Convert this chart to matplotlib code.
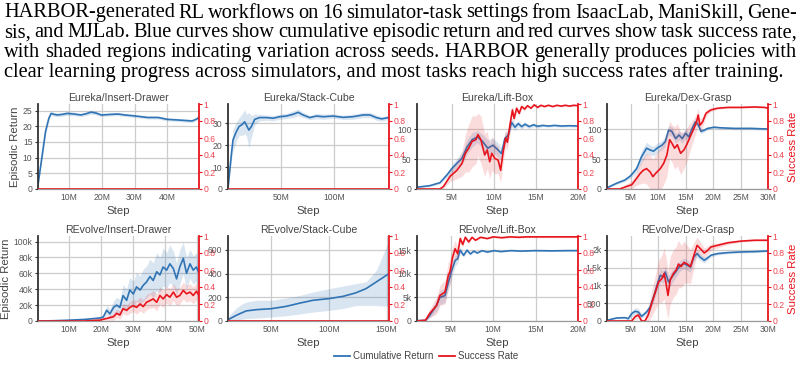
import numpy as np
import matplotlib
matplotlib.use("Agg")
from matplotlib import pyplot as plt
from matplotlib.lines import Line2D
from matplotlib.ticker import FuncFormatter

BLUE = '#3074b5'
RED = '#e8141d'
RED_TXT = '#ee4450'
GRAY = '#555555'

caption_lines = [
    "HARBOR-generated RL workflows on 16 simulator-task settings from IsaacLab, ManiSkill, Gene-",
    "sis, and MJLab. Blue curves show cumulative episodic return and red curves show task success rate,",
    "with shaded regions indicating variation across seeds.  HARBOR generally produces policies with",
    "clear learning progress across simulators, and most tasks reach high success rates after training.",
]

# ---- Eureka / Insert-Drawer
eu_drawer_x = [0.5, 1.8, 2.8, 3.8, 4.5, 5.4, 6.4, 8.0, 9.5, 11.5, 13.6, 15.2, 16.7, 18.3, 19.8, 21.5, 23.0,
               25.0, 27.0, 30.0, 34.0, 37.2, 40.0, 43.3, 46.0, 47.6, 49.0, 49.7]
eu_drawer_ret = [1.3, 10.9, 18.3, 22.5, 24.1, 23.8, 23.6, 23.8, 24.1, 23.9, 23.6, 24.0, 24.5, 24.2, 23.6, 23.7,
                 23.8, 23.9, 23.6, 23.3, 22.8, 22.8, 22.2, 22.0, 21.8, 21.7, 22.3, 22.9]
eu_drawer_ret_sd = [0.3, 1.0, 1.0, 0.8, 0.6, 0.6, 0.6, 0.6, 0.6, 0.6, 0.5, 0.6, 0.6, 0.6, 0.5, 0.5, 0.5, 0.5,
                    0.5, 0.5, 0.5, 0.5, 0.5, 0.5, 0.5, 0.5, 0.5, 0.6]
eu_drawer_sr_x = [0.5, 49.7]
eu_drawer_sr = [0, 0]

# ---- Eureka / Stack-Cube
eu_stack_x = [0.3, 3.4, 5.0, 8.0, 10.7, 13.8, 16.0, 17.6, 20.0, 22.3, 25.5, 30.0, 36.5, 42.8, 49.0, 55.3, 61.6,
              66.4, 71.0, 77.3, 83.6, 90.0, 99.4, 108.8, 118.0, 127.7, 134.0, 140.0, 145.0, 151.5]
eu_stack_ret = [0.3, 15.5, 22.4, 26.0, 28.5, 29.5, 30.7, 29.2, 26.9, 28.5, 31.8, 32.6, 32.6, 32.3, 33.0, 33.3,
                34.1, 35.0, 33.8, 32.6, 33.3, 33.0, 33.3, 32.7, 33.0, 33.8, 33.8, 32.6, 32.0, 32.6]
eu_stack_ret_sd = [0.3, 3.0, 5.0, 4.5, 4.0, 5.0, 5.5, 5.0, 8.0, 5.0, 2.5, 1.5, 1.2, 1.2, 1.2, 1.2, 1.5, 1.5,
                   1.2, 1.0, 1.2, 1.2, 1.0, 1.0, 1.2, 1.2, 1.2, 1.2, 1.0, 1.0]
eu_stack_sr_x = [0.3, 152]
eu_stack_sr = [0, 0]

# ---- Eureka / Lift-Box
eu_lift_x = [0.85, 2.36, 3.58, 4.39, 5.0, 5.6, 6.2, 6.8, 7.4, 8.05, 8.66, 9.27, 9.88, 10.5, 10.9, 11.3, 11.7,
             12.1, 12.5, 12.9, 13.3, 13.7, 14.2, 14.7, 15.2, 15.8, 16.5, 17.2, 18.0, 19.0, 20.0]
eu_lift_ret = [3, 5.5, 10.5, 23, 34, 43, 51, 70, 82, 87, 79, 68, 73, 65, 59, 84, 90, 111, 103, 109, 104, 108,
               104, 107, 104.5, 106, 105, 106, 105, 105.5, 105]
eu_lift_ret_sd = [1, 1.5, 2, 4, 6, 8, 10, 12, 12, 10, 12, 14, 12, 12, 10, 10, 8, 8, 6, 5, 4, 4, 3, 3, 3, 2, 2,
                  2, 2, 2, 2]
eu_lift_sr_x = [0.85, 3.58, 4.0, 4.8, 5.6, 6.2, 6.6, 7.0, 7.4, 7.85, 8.1, 8.45, 8.9, 9.2, 9.5, 9.75, 10.1,
                10.5, 10.8, 11.1, 11.4, 11.6, 11.9, 12.2, 12.4, 12.7, 13.0, 13.3, 13.65, 14.0, 14.4, 14.8,
                15.2, 15.6, 16.0, 16.5, 17.0, 17.5, 18.0, 18.5, 19.0, 19.5, 20.0]
eu_lift_sr = [0, 0, 0.03, 0.15, 0.22, 0.3, 0.42, 0.48, 0.56, 0.58, 0.64, 0.58, 0.4, 0.46, 0.32, 0.42, 0.36,
              0.34, 0.22, 0.44, 0.6, 0.55, 0.75, 0.93, 0.83, 0.95, 0.89, 0.97, 0.94, 0.98, 0.95, 0.99, 0.96,
              0.985, 0.97, 0.985, 0.97, 0.985, 0.975, 0.985, 0.975, 0.985, 0.98]
eu_lift_sr_sd = [0, 0, 0.02, 0.06, 0.1, 0.15, 0.22, 0.28, 0.3, 0.28, 0.25, 0.28, 0.25, 0.22, 0.2, 0.2, 0.18,
                 0.16, 0.14, 0.12, 0.1, 0.1, 0.08, 0.05, 0.05, 0.03, 0.03, 0.02, 0.02, 0.01, 0.01, 0.01,
                 0.01, 0.01, 0.01, 0.01, 0.01, 0.01, 0.01, 0.01, 0.01, 0.01, 0.01]

# ---- Eureka / Dex-Grasp
eu_dex_x = [0.7, 2.4, 3.96, 5.0, 6.1, 7.0, 7.9, 8.56, 9.17, 9.8, 10.7, 11.3, 11.9, 12.5, 13.2, 13.8, 14.4,
            15.0, 15.6, 16.2, 16.8, 17.3, 17.8, 18.4, 19.0, 20.2, 21.4, 23.9, 27.0, 30.0]
eu_dex_ret = [2, 9.4, 15, 22, 34, 54, 68, 65, 63, 68, 73, 79, 98, 96, 84, 90, 84, 93, 87, 101, 112, 107, 96,
              98, 101, 103, 102, 101, 101, 100]
eu_dex_ret_sd = [1, 2, 3, 4, 6, 10, 10, 8, 8, 8, 8, 8, 8, 8, 8, 8, 8, 8, 8, 8, 6, 5, 4, 3, 2, 2, 2, 2, 2, 2]
eu_dex_sr_x = [0.7, 3.0, 4.26, 5.2, 6.1, 6.7, 7.3, 7.9, 8.56, 9.05, 9.5, 10.4, 11.0, 11.6, 12.1, 12.5, 13.0,
               13.5, 14.1, 14.7, 15.2, 15.6, 16.0, 16.5, 17.0, 17.3, 17.6, 18.1, 18.7, 19.6, 20.8, 22.7,
               25.1, 27.6, 29.4, 30.0]
eu_dex_sr = [0, 0, 0.03, 0.05, 0.125, 0.18, 0.22, 0.24, 0.2, 0.145, 0.18, 0.24, 0.3, 0.4, 0.58, 0.54, 0.48,
             0.52, 0.42, 0.46, 0.52, 0.58, 0.64, 0.71, 0.79, 0.87, 0.75, 0.79, 0.89, 0.93, 0.95, 0.96, 0.96,
             0.965, 0.96, 0.95]
eu_dex_sr_sd = [0, 0, 0.03, 0.05, 0.08, 0.12, 0.15, 0.18, 0.2, 0.2, 0.22, 0.25, 0.25, 0.25, 0.22, 0.22, 0.25,
                0.25, 0.25, 0.22, 0.2, 0.18, 0.15, 0.12, 0.1, 0.08, 0.08, 0.06, 0.04, 0.02, 0.01, 0.01,
                0.01, 0.01, 0.01, 0.01]

# ---- REvolve / Insert-Drawer
rv_drawer_x = [0.44, 5, 10, 15, 19.8, 20.8, 21.9, 22.9, 24.0, 25.0, 26.0, 27.0, 28.1, 29.1, 30.2, 31.2, 32.3,
               33.3, 34.3, 35.4, 36.4, 37.5, 38.5, 39.5, 40.6, 41.6, 42.7, 43.7, 44.7, 45.8, 46.8, 47.9, 48.9,
               49.9, 50.7]
rv_drawer_ret = [0, 300, 1000, 2000, 3800, 5000, 13500, 9000, 17000, 20000, 17000, 32000, 26000, 39000, 34000,
                 43000, 39000, 45000, 49000, 56000, 51000, 62000, 58000, 68000, 64000, 72000, 66000, 53000,
                 68000, 79000, 60000, 72000, 64000, 68000, 60000]
rv_drawer_ret_sd = [0, 200, 500, 800, 1500, 3000, 6000, 6000, 8000, 10000, 10000, 14000, 14000, 16000, 16000,
                    18000, 18000, 20000, 20000, 22000, 22000, 24000, 22000, 24000, 22000, 24000, 22000, 20000,
                    22000, 20000, 20000, 18000, 18000, 18000, 18000]
rv_drawer_sr = [0, 0, 0, 0, 0.01, 0.02, 0.03, 0.04, 0.05, 0.09, 0.07, 0.145, 0.125, 0.16, 0.18, 0.16, 0.2,
                0.17, 0.22, 0.24, 0.26, 0.22, 0.3, 0.26, 0.31, 0.28, 0.34, 0.28, 0.3, 0.36, 0.32, 0.34, 0.3,
                0.35, 0.3]
rv_drawer_sr_sd = [0, 0, 0, 0, 0.005, 0.01, 0.02, 0.03, 0.04, 0.05, 0.05, 0.06, 0.06, 0.07, 0.07, 0.08, 0.08,
                   0.08, 0.09, 0.09, 0.1, 0.1, 0.1, 0.1, 0.1, 0.1, 0.1, 0.1, 0.1, 0.1, 0.1, 0.1, 0.1, 0.1, 0.1]

# ---- REvolve / Stack-Cube
rv_stack_x = [12.3, 19.5, 25, 28, 37, 50, 63, 75, 86, 100, 112, 123, 132, 141, 152]
rv_stack_ret = [11, 48, 72, 85, 96, 104, 124, 152, 175, 189, 208, 237, 273, 330, 400]
rv_stack_lo = [3, 10, 15, 20, 25, 34, 45, 60, 75, 90, 105, 130, 132, 130, 124]
rv_stack_hi = [34, 110, 146, 160, 175, 175, 195, 217, 245, 273, 295, 315, 330, 428, 682]
rv_stack_sr_x = [12.3, 152]
rv_stack_sr = [0, 0]

# ---- REvolve / Lift-Box
rv_lift_x = [1.0, 2.0, 2.5, 3.3, 3.7, 4.3, 4.7, 5.1, 5.5, 5.8, 6.1, 6.5, 6.9, 7.3, 7.7, 8.1, 8.7, 9.3, 10.1,
             10.9, 12.1, 13.3, 14.9, 16.9, 18.9, 20.0]
rv_lift_ret = [100, 100, 1200, 3300, 5000, 5400, 8200, 10700, 12800, 13200, 15000, 13900, 15000, 14200, 14800,
               14400, 14900, 14600, 14900, 14700, 14900, 14800, 14900, 14850, 14900, 14900]
rv_lift_ret_sd = [50, 100, 600, 1200, 1500, 1500, 1500, 1500, 1200, 1000, 600, 400, 300, 300, 200, 200, 150,
                  150, 100, 100, 100, 100, 100, 100, 100, 100]
rv_lift_sr_x = [1.0, 2.0, 2.5, 3.3, 3.7, 4.3, 4.7, 4.9, 5.2, 5.5, 5.8, 6.1, 6.4, 6.7, 7.1, 7.5, 7.9, 8.5, 9.3,
                10.0, 11.0, 12.0, 13.0, 14.0, 16.0, 18.0, 20.0]
rv_lift_sr = [0, 0.01, 0.09, 0.18, 0.3, 0.34, 0.54, 0.58, 0.75, 0.85, 0.79, 0.97, 0.9, 0.985, 0.93, 0.985,
              0.95, 0.985, 0.97, 0.99, 0.98, 0.99, 0.985, 0.99, 0.99, 0.99, 0.99]
rv_lift_sr_sd = [0, 0.01, 0.05, 0.1, 0.12, 0.14, 0.15, 0.15, 0.12, 0.1, 0.08, 0.04, 0.03, 0.02, 0.02, 0.01,
                 0.01, 0.01, 0.01, 0.01, 0.01, 0.01, 0.01, 0.01, 0.01, 0.01, 0.01]

# ---- REvolve / Dex-Grasp
rv_dex_x = [0.7, 2.4, 3.96, 4.57, 5.18, 5.8, 6.4, 7.0, 7.9, 8.56, 9.17, 9.8, 10.4, 11.0, 11.3, 11.9, 12.5,
            13.2, 13.6, 14.1, 14.7, 15.3, 15.9, 16.5, 17.1, 17.6, 18.4, 19.0, 19.6, 20.8, 22.7, 25.1, 27.6, 30.0]
rv_dex_ret = [19, 84, 94, 66, 206, 272, 253, 131, 253, 394, 675, 1004, 1285, 1238, 1379, 1097, 1238, 1379,
              1473, 1567, 1614, 1567, 1520, 1801, 1895, 1801, 1707, 1773, 1848, 1895, 1923, 1942, 1951, 1970]
rv_dex_ret_sd = [10, 20, 30, 40, 80, 100, 100, 60, 80, 120, 150, 180, 180, 180, 180, 180, 180, 160, 160, 150,
                 150, 150, 150, 120, 100, 100, 80, 60, 50, 40, 30, 30, 30, 30]
rv_dex_sr_x = [0.7, 5.2, 5.8, 6.4, 7.0, 7.6, 8.2, 8.8, 9.5, 10.1, 10.7, 11.1, 11.4, 11.8, 12.2, 12.8, 13.3,
               13.7, 14.2, 14.7, 15.3, 15.9, 16.5, 17.1, 17.7, 18.4, 19.0, 19.6, 20.8, 22.7, 25.1, 27.6, 30.0]
rv_dex_sr = [0, 0, 0.05, 0.07, 0, 0, 0.07, 0.2, 0.34, 0.46, 0.5, 0.56, 0.46, 0.3, 0.48, 0.56, 0.6, 0.67, 0.64,
             0.69, 0.67, 0.64, 0.77, 0.89, 0.85, 0.8, 0.83, 0.87, 0.89, 0.92, 0.94, 0.95, 0.95]
rv_dex_sr_sd = [0, 0, 0.03, 0.04, 0.02, 0.02, 0.08, 0.15, 0.2, 0.25, 0.28, 0.3, 0.3, 0.28, 0.28, 0.28, 0.28,
                0.28, 0.25, 0.25, 0.22, 0.2, 0.15, 0.1, 0.08, 0.06, 0.05, 0.04, 0.03, 0.02, 0.01, 0.01, 0.01]


def band(y, sd):
    y = np.asarray(y, float)
    sd = np.asarray(sd, float)
    return y - sd, y + sd


panels = [
    dict(title='Eureka/Insert-Drawer', x=eu_drawer_x, ret=eu_drawer_ret, band=band(eu_drawer_ret, eu_drawer_ret_sd),
         sx=eu_drawer_sr_x, sr=eu_drawer_sr, sband=None,
         xlim=(0.5, 49.7), xt=[10, 20, 30, 40], ylim=(0, 27.1), yt=[0, 5, 10, 15, 20, 25]),
    dict(title='Eureka/Stack-Cube', x=eu_stack_x, ret=eu_stack_ret, band=band(eu_stack_ret, eu_stack_ret_sd),
         sx=eu_stack_sr_x, sr=eu_stack_sr, sband=None,
         xlim=(0.3, 152), xt=[50, 100], ylim=(0, 38.8), yt=[0, 10, 20, 30]),
    dict(title='Eureka/Lift-Box', x=eu_lift_x, ret=eu_lift_ret, band=band(eu_lift_ret, eu_lift_ret_sd),
         sx=eu_lift_sr_x, sr=eu_lift_sr, sband=band(eu_lift_sr, eu_lift_sr_sd),
         xlim=(0.85, 20), xt=[5, 10, 15, 20], ylim=(0, 141.7), yt=[0, 50, 100]),
    dict(title='Eureka/Dex-Grasp', x=eu_dex_x, ret=eu_dex_ret, band=band(eu_dex_ret, eu_dex_ret_sd),
         sx=eu_dex_sr_x, sr=eu_dex_sr, sband=band(eu_dex_sr, eu_dex_sr_sd),
         xlim=(0.7, 30), xt=[5, 10, 15, 20, 25, 30], ylim=(0, 141.7), yt=[0, 50, 100]),
    dict(title='REvolve/Insert-Drawer', x=rv_drawer_x, ret=rv_drawer_ret, band=band(rv_drawer_ret, rv_drawer_ret_sd),
         sx=rv_drawer_x, sr=rv_drawer_sr, sband=band(rv_drawer_sr, rv_drawer_sr_sd),
         xlim=(0.44, 50.7), xt=[10, 20, 30, 40, 50], ylim=(0, 107000), yt=[0, 20000, 40000, 60000, 80000, 100000]),
    dict(title='REvolve/Stack-Cube', x=rv_stack_x, ret=rv_stack_ret, band=(rv_stack_lo, rv_stack_hi),
         sx=rv_stack_sr_x, sr=rv_stack_sr, sband=None,
         xlim=(12.3, 152), xt=[50, 100, 150], ylim=(0, 718), yt=[0, 200, 400, 600]),
    dict(title='REvolve/Lift-Box', x=rv_lift_x, ret=rv_lift_ret, band=band(rv_lift_ret, rv_lift_ret_sd),
         sx=rv_lift_sr_x, sr=rv_lift_sr, sband=band(rv_lift_sr, rv_lift_sr_sd),
         xlim=(1.0, 20), xt=[5, 10, 15, 20], ylim=(0, 18000), yt=[0, 5000, 10000, 15000]),
    dict(title='REvolve/Dex-Grasp', x=rv_dex_x, ret=rv_dex_ret, band=band(rv_dex_ret, rv_dex_ret_sd),
         sx=rv_dex_sr_x, sr=rv_dex_sr, sband=band(rv_dex_sr, rv_dex_sr_sd),
         xlim=(0.7, 30), xt=[5, 10, 15, 20, 25, 30], ylim=(0, 2390), yt=[0, 500, 1000, 1500, 2000]),
]


def fmt_k(v, pos):
    if v >= 1000:
        return f'{v / 1000:g}k'
    return f'{v:g}'


def main():
    plt.rcParams['font.family'] = ['Liberation Sans', 'DejaVu Sans']
    W, H = 804, 368
    fig = plt.figure(figsize=(W / 100, H / 100), dpi=100)
    renderer = fig.canvas.get_renderer()

    # caption, justified like the paper text
    serif = 'Liberation Serif'
    probe = fig.text(0, 0, caption_lines[3], fontsize=12, family=serif)
    w12 = probe.get_window_extent(renderer).width
    probe.remove()
    fsize = 12 * 777 / w12
    x0, x1 = 4, 797
    baselines = [17.5, 37.2, 56.9, 76.6]
    for i, line in enumerate(caption_lines):
        yb = 1 - baselines[i] / H
        if i == len(caption_lines) - 1:
            fig.text(x0 / W, yb, line, fontsize=fsize, family=serif, va='baseline', color='black')
            continue
        words = line.split()
        widths = []
        for wd in words:
            t = fig.text(0, 0, wd, fontsize=fsize, family=serif)
            widths.append(t.get_window_extent(renderer).width)
            t.remove()
        gap = (x1 - x0 - sum(widths)) / (len(words) - 1)
        xp = x0
        for wd, wdt in zip(words, widths):
            fig.text(xp / W, yb, wd, fontsize=fsize, family=serif, va='baseline', color='black')
            xp += wdt + gap

    lefts = [38, 228, 417, 607]
    bottoms = [189, 321]
    aw, ah = 161, 85
    for k, p in enumerate(panels):
        r, c = divmod(k, 4)
        ax = fig.add_axes([lefts[c] / W, 1 - bottoms[r] / H, aw / W, ah / H])
        ax2 = ax.twinx()

        lo, hi = p['band']
        ax.fill_between(p['x'], lo, hi, color=BLUE, alpha=0.18, lw=0)
        ax.plot(p['x'], p['ret'], color=BLUE, lw=1.2)
        if p['sband'] is not None:
            slo, shi = p['sband']
            ax2.fill_between(p['sx'], slo, shi, color=RED, alpha=0.15, lw=0)
        ax2.plot(p['sx'], p['sr'], color=RED, lw=1.2)

        ax.set_xlim(*p['xlim'])
        ax.set_ylim(*p['ylim'])
        ax.set_xticks(p['xt'])
        ax.set_yticks(p['yt'])
        ax.xaxis.set_major_formatter(FuncFormatter(lambda v, pos: f'{v:g}M'))
        ax.yaxis.set_major_formatter(FuncFormatter(fmt_k))
        ax2.set_ylim(0, 1)
        ax2.set_yticks([0, 0.2, 0.4, 0.6, 0.8, 1.0])
        ax2.yaxis.set_major_formatter(FuncFormatter(lambda v, pos: f'{v:g}'))

        ax.grid(True, color='#cccccc', lw=0.9)
        ax.set_axisbelow(True)
        for a in (ax, ax2):
            a.spines['top'].set_visible(False)
            a.spines['bottom'].set_color('#999999')
            a.spines['bottom'].set_linewidth(0.8)
        ax.spines['left'].set_color('#333333')
        ax.spines['left'].set_linewidth(1.3)
        ax.spines['right'].set_visible(False)
        ax2.spines['left'].set_visible(False)
        ax2.spines['right'].set_color(RED)
        ax2.spines['right'].set_linewidth(1.3)

        ax.tick_params(axis='x', length=0, labelsize=6.2, labelcolor=GRAY, pad=3)
        ax.tick_params(axis='y', length=2, color='#333333', labelsize=6.2, labelcolor=GRAY, pad=2)
        ax2.tick_params(axis='y', length=2, color=RED, labelsize=6.2, labelcolor=RED_TXT, pad=1)

        ax.set_title(p['title'], fontsize=7.6, color='#444444', pad=2.5)
        ax.set_xlabel('Step', fontsize=8.2, color='#444444', labelpad=3)
        if c == 0:
            ax.set_ylabel('Episodic Return', fontsize=8.2, color='#444444', labelpad=2)
        if c == 3:
            ax2.set_ylabel('Success Rate', fontsize=8.2, color=RED, labelpad=3)

    handles = [Line2D([], [], color=BLUE, lw=1.3), Line2D([], [], color=RED, lw=1.3)]
    fig.legend(handles, ['Cumulative Return', 'Success Rate'], loc='center', bbox_to_anchor=(0.53, 0.032),
               ncol=2, frameon=False, fontsize=7, handlelength=1.6, handletextpad=0.3, columnspacing=0.6,
               labelcolor='#444444')

    fig.savefig('out.png', dpi=100)


if __name__ == '__main__':
    main()
